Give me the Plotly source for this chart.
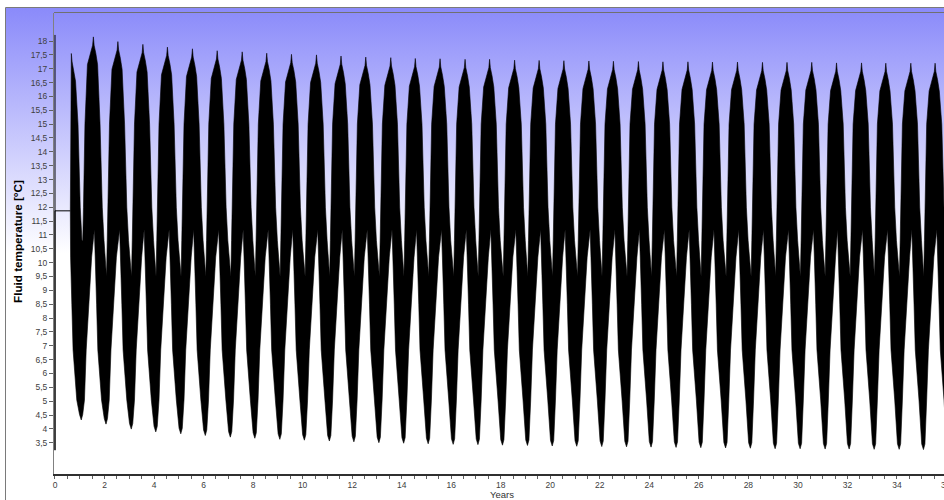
import plotly.graph_objects as go

# ---------------- data ----------------
# start of the record: spike at t=0 and flat initial value
start_years = [0.0, 0.0, 0.0, 0.62]
start_temps = [18.22, 3.23, 11.87, 11.87]

# summer peaks (upper spikes)
peak_year = [0.66, 1.55, 2.54, 3.55, 4.54, 5.55, 6.55, 7.56, 8.55, 9.55,
             10.56, 11.55, 12.55, 13.56, 14.55, 15.55, 16.56, 17.55, 18.56, 19.55,
             20.55, 21.56, 22.55, 23.56, 24.55, 25.56, 26.55, 27.56, 28.57, 29.56,
             30.56, 31.56, 32.57, 33.55, 34.56, 35.54]
peak_temp = [17.55, 18.15, 17.98, 17.88, 17.78, 17.72, 17.65, 17.61, 17.56, 17.52,
             17.50, 17.46, 17.42, 17.40, 17.37, 17.36, 17.34, 17.34, 17.31, 17.30,
             17.29, 17.28, 17.27, 17.26, 17.25, 17.25, 17.24, 17.24, 17.23, 17.23,
             17.23, 17.21, 17.21, 17.20, 17.20, 17.20]

# winter troughs (lower tips)
trough_year = [1.06, 2.06, 3.08, 4.07, 5.08, 6.07, 7.08, 8.07, 9.08, 10.07,
               11.08, 12.07, 13.08, 14.08, 15.07, 16.08, 17.08, 18.07, 19.08, 20.08,
               21.07, 22.08, 23.08, 24.07, 25.08, 26.08, 27.08, 28.08, 29.08, 30.09,
               31.10, 32.07, 33.08, 34.09, 35.07, 36.08]
trough_temp = [4.32, 4.17, 3.99, 3.89, 3.82, 3.76, 3.70, 3.66, 3.62, 3.59,
               3.56, 3.53, 3.50, 3.48, 3.46, 3.44, 3.43, 3.41, 3.40, 3.38,
               3.37, 3.36, 3.35, 3.34, 3.33, 3.32, 3.31, 3.30, 3.28, 3.28,
               3.27, 3.27, 3.26, 3.26, 3.25, 3.25]

# upper edge of the dense band around one peak (offset in years from the peak)
upper_left_dt = [-0.46, -0.43, -0.40, -0.34]
upper_left_temp = [9.5, 10.8, 12.0, 15.0]
crest_dt = [-0.24, -0.12, -0.03, 0.0, 0.03, 0.10, 0.17]
crest_drop = [1.0, 0.55, 0.3, 0.0, 0.3, 0.6, 1.0]
upper_right_dt = [0.27, 0.36, 0.43]
upper_right_temp = [15.0, 12.0, 10.8]

# lower edge of the dense band around one trough (offset in years from the trough)
lower_left_dt = [-0.47, -0.43, -0.38, -0.33, -0.18]
lower_left_temp = [11.2, 10.2, 8.5, 6.85, 5.04]
tip_dt = [-0.07, 0.0, 0.06]
tip_rise = [0.2, 0.0, 0.2]
lower_right_dt = [0.13, 0.20, 0.32, 0.42]
lower_right_temp = [5.04, 6.85, 8.5, 10.2]

y_ticks = [3.5, 4, 4.5, 5, 5.5, 6, 6.5, 7, 7.5, 8, 8.5, 9, 9.5, 10, 10.5, 11,
           11.5, 12, 12.5, 13, 13.5, 14, 14.5, 15, 15.5, 16, 16.5, 17, 17.5, 18]

# ---------------- build band outline ----------------
t_start = start_years[-1]
T0 = start_temps[-1]


def add_points(xs, ys, pts):
    for t, v in pts:
        if t > xs[-1] + 1e-9:
            xs.append(t)
            ys.append(v)


ux, uy = [t_start], [T0]
for p, pv in zip(peak_year, peak_temp):
    pts = [(p + d, v) for d, v in zip(upper_left_dt, upper_left_temp)]
    pts += [(p + d, pv - dr) for d, dr in zip(crest_dt, crest_drop)]
    pts += [(p + d, v) for d, v in zip(upper_right_dt, upper_right_temp)]
    add_points(ux, uy, pts)

lx, ly = [t_start], [T0]
for q, qv in zip(trough_year, trough_temp):
    pts = [(q + d, v) for d, v in zip(lower_left_dt, lower_left_temp)]
    pts += [(q + d, qv + r) for d, r in zip(tip_dt, tip_rise)]
    pts += [(q + d, v) for d, v in zip(lower_right_dt, lower_right_temp)]
    add_points(lx, ly, pts)

band_x = ux + lx[::-1]
band_y = uy + ly[::-1]

W, H = 944, 500
PX_L, PX_T, PX_B = 54, 12.5, 474

fig = go.Figure()

# background gradient (pixel-space axes covering the whole figure)
fig.add_trace(go.Scatter(
    x=[6, W, W, 6, 6], y=[0, 0, H - 8, H - 8, 0],
    mode="lines", line=dict(width=0), fill="toself",
    fillgradient=dict(type="vertical", start=0, stop=H - 8,
                      colorscale=[[0, "#ffffff"], [0.5, "#ffffff"],
                                  [1, "rgb(138,138,250)"]]),
    hoverinfo="skip", showlegend=False, xaxis="x", yaxis="y"))

# data
fig.add_trace(go.Scatter(
    x=band_x, y=band_y, mode="lines", fill="toself", fillcolor="black",
    line=dict(color="black", width=0.6), showlegend=False,
    xaxis="x2", yaxis="y2"))
fig.add_trace(go.Scatter(
    x=start_years, y=start_temps, mode="lines",
    line=dict(color="black", width=1), showlegend=False,
    xaxis="x2", yaxis="y2"))

tickfont = dict(family="Liberation Sans", size=8.5, color="#404040")

fig.update_layout(
    width=W, height=H, template="none",
    margin=dict(l=0, r=0, t=0, b=0),
    paper_bgcolor="white", plot_bgcolor="rgba(0,0,0,0)",
    separators=", ",
    showlegend=False,
    xaxis=dict(domain=[0, 1], range=[0, W], visible=False, fixedrange=True),
    yaxis=dict(domain=[0, 1], range=[0, H], visible=False, fixedrange=True),
    xaxis2=dict(domain=[PX_L / W, 1], anchor="y2", range=[-0.04, 35.9],
                showgrid=False, zeroline=False, automargin=False,
                showline=True, linecolor="#303030", linewidth=2,
                ticks="outside", ticklen=3, tickcolor="#606060", tickwidth=1,
                tick0=0, dtick=2, tickfont=tickfont, ticklabelstandoff=-1,
                minor=dict(dtick=0.5, ticks="outside", ticklen=3,
                           tickcolor="#606060", tickwidth=1, showgrid=False)),
    yaxis2=dict(domain=[(H - PX_B) / H, (H - PX_T) / H], anchor="x2",
                range=[2.37, 19.03], showgrid=False, zeroline=False,
                automargin=False, showline=True, linecolor="#808080",
                linewidth=1, ticks="outside", ticklen=4, tickcolor="#606060",
                tickvals=y_ticks, tickfont=tickfont),
    shapes=[
        dict(type="line", xref="paper", yref="paper", x0=5.5 / W, x1=1,
             y0=1 - 7.5 / H, y1=1 - 7.5 / H, line=dict(color="#7a7a7a", width=1)),
        dict(type="line", xref="paper", yref="paper", x0=5.5 / W, x1=5.5 / W,
             y0=0, y1=1 - 7.5 / H, line=dict(color="#7a7a7a", width=1)),
        dict(type="line", xref="paper", yref="paper", x0=PX_L / W, x1=1,
             y0=(H - PX_T) / H, y1=(H - PX_T) / H,
             line=dict(color="#707070", width=1)),
    ],
    annotations=[
        dict(text="Fluid temperature [°C]", xref="paper", yref="paper",
             x=17.5 / W, y=1 - 241.5 / H, textangle=-90, showarrow=False,
             xanchor="center", yanchor="middle",
             font=dict(family="Liberation Sans", size=11.7, color="black",
                       weight="bold")),
        dict(text="Years", xref="paper", yref="paper", x=501.5 / W,
             y=1 - 494.5 / H, showarrow=False, xanchor="center",
             yanchor="middle", borderpad=0,
             font=dict(family="Liberation Sans", size=9.5, color="#333333")),
        dict(text="36", xref="paper", yref="paper", x=(55 + 36 * 24.76) / W,
             y=1 - 484.5 / H, showarrow=False, xanchor="center",
             yanchor="middle", font=tickfont),
    ],
)

fig.write_html("out.html",
               config={"displayModeBar": False},
               post_script="document.body.style.margin='0px';"
                           "document.body.style.overflow='hidden';")
